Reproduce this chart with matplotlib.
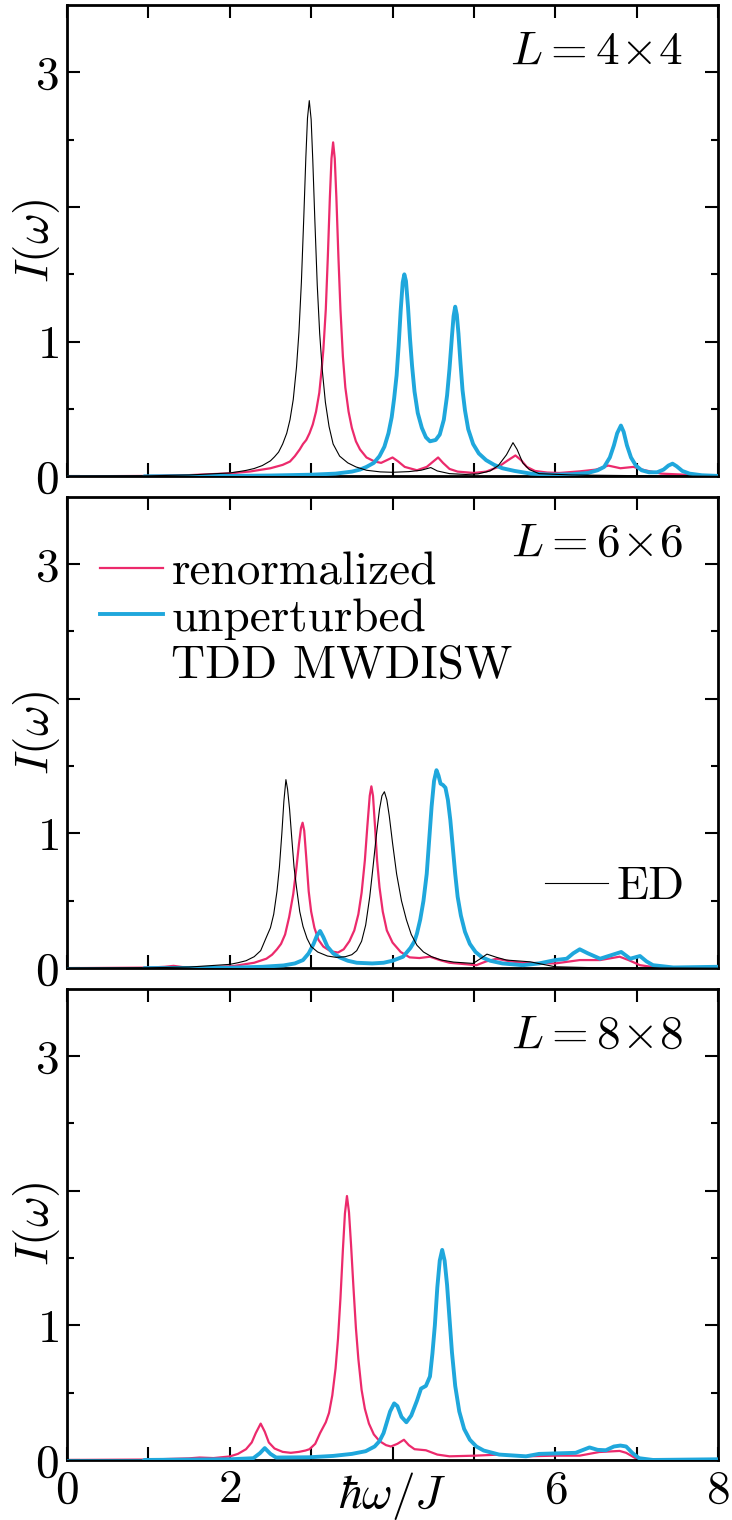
import matplotlib
matplotlib.use("Agg")
import matplotlib.pyplot as plt
from matplotlib.lines import Line2D
import numpy as np

plt.rcParams["font.family"] = "cmr10"
plt.rcParams["mathtext.fontset"] = "cm"
plt.rcParams["axes.unicode_minus"] = False

RED = "#ec2a6c"
CYAN = "#1fa7dc"

# ---- spectra: (hbar*omega/J, I(omega)) ----
ed_4x4 = [(0.0, 0.0), (1.0, 0.004), (1.5, 0.01), (2.0, 0.025), (2.1, 0.034), (2.2, 0.044),
          (2.3, 0.058), (2.4, 0.08), (2.5, 0.115), (2.55, 0.145), (2.6, 0.18), (2.65, 0.24),
          (2.7, 0.32), (2.74, 0.42), (2.78, 0.57), (2.82, 0.81), (2.85, 1.07), (2.88, 1.44),
          (2.91, 1.93), (2.935, 2.37), (2.955, 2.66), (2.977, 2.79), (3.0, 2.65), (3.02, 2.35),
          (3.045, 1.91), (3.075, 1.42), (3.105, 1.06), (3.135, 0.8), (3.175, 0.55), (3.22, 0.37),
          (3.27, 0.24), (3.35, 0.15), (3.45, 0.1), (3.55, 0.07), (3.68, 0.045), (3.85, 0.033),
          (4.0, 0.03), (4.2, 0.035), (4.35, 0.045), (4.47, 0.065), (4.55, 0.04), (4.7, 0.02),
          (4.9, 0.014), (5.05, 0.018), (5.2, 0.04), (5.3, 0.08), (5.4, 0.16), (5.48, 0.25),
          (5.53, 0.2), (5.6, 0.1), (5.68, 0.05), (5.8, 0.02), (6.2, 0.01), (7.0, 0.005),
          (8.0, 0.0)]
renorm_4x4 = [(0.0, 0.0), (1.0, 0.003), (1.5, 0.009), (2.0, 0.022), (2.25, 0.036), (2.5, 0.06),
              (2.65, 0.085), (2.74, 0.11), (2.8, 0.15), (2.86, 0.2), (2.9, 0.24), (2.94, 0.27),
              (2.98, 0.32), (3.02, 0.385), (3.06, 0.48), (3.1, 0.62), (3.13, 0.8), (3.15, 0.94),
              (3.18, 1.24), (3.205, 1.63), (3.23, 2.07), (3.25, 2.36), (3.27, 2.48), (3.29, 2.36),
              (3.31, 2.07), (3.335, 1.63), (3.36, 1.24), (3.39, 0.89), (3.42, 0.66), (3.46, 0.48),
              (3.5, 0.36), (3.55, 0.26), (3.6, 0.2), (3.68, 0.14), (3.78, 0.11), (3.86, 0.1),
              (3.93, 0.12), (4.0, 0.14), (4.07, 0.11), (4.15, 0.07), (4.3, 0.045), (4.42, 0.07),
              (4.5, 0.11), (4.56, 0.14), (4.62, 0.1), (4.7, 0.055), (4.8, 0.035), (5.0, 0.025),
              (5.15, 0.035), (5.3, 0.07), (5.42, 0.12), (5.51, 0.155), (5.58, 0.12), (5.65, 0.07),
              (5.75, 0.04), (5.9, 0.028), (6.05, 0.025), (6.3, 0.037), (6.5, 0.05), (6.65, 0.08),
              (6.8, 0.06), (6.96, 0.07), (7.1, 0.045), (7.3, 0.02), (7.6, 0.012), (8.0, 0.0)]
unpert_4x4 = [(0.0, -0.01), (0.93, -0.01), (0.95, 0.0), (2.0, 0.003), (2.5, 0.006), (3.0, 0.012),
              (3.3, 0.02), (3.5, 0.035), (3.6, 0.05), (3.68, 0.07), (3.77, 0.1), (3.84, 0.15),
              (3.9, 0.22), (3.95, 0.32), (3.99, 0.44), (4.02, 0.58), (4.05, 0.75), (4.075, 0.97),
              (4.1, 1.23), (4.125, 1.44), (4.145, 1.5), (4.165, 1.45), (4.19, 1.26), (4.215, 1.02),
              (4.24, 0.82), (4.27, 0.63), (4.31, 0.47), (4.36, 0.36), (4.41, 0.29), (4.46, 0.26),
              (4.53, 0.27), (4.58, 0.31), (4.63, 0.42), (4.67, 0.6), (4.7, 0.8), (4.73, 1.04),
              (4.75, 1.19), (4.77, 1.26), (4.79, 1.2), (4.81, 1.06), (4.835, 0.84), (4.86, 0.64),
              (4.89, 0.49), (4.93, 0.35), (4.99, 0.24), (5.06, 0.17), (5.15, 0.12), (5.25, 0.085),
              (5.35, 0.06), (5.5, 0.04), (5.7, 0.02), (5.97, 0.012), (6.2, 0.015), (6.4, 0.025),
              (6.52, 0.045), (6.6, 0.07), (6.67, 0.14), (6.72, 0.23), (6.76, 0.32), (6.806, 0.377),
              (6.84, 0.33), (6.88, 0.23), (6.93, 0.14), (6.99, 0.08), (7.06, 0.045), (7.15, 0.03),
              (7.25, 0.03), (7.33, 0.05), (7.39, 0.08), (7.44, 0.094), (7.49, 0.075), (7.56, 0.04),
              (7.65, 0.02), (7.8, 0.008), (8.0, 0.003)]

ed_6x6 = [(0.0, 0.0), (1.0, 0.003), (1.5, 0.008), (2.0, 0.028), (2.1, 0.04), (2.2, 0.055),
          (2.3, 0.085), (2.38, 0.13), (2.45, 0.23), (2.5, 0.3), (2.54, 0.4), (2.58, 0.57),
          (2.61, 0.75), (2.64, 1.0), (2.665, 1.24), (2.69, 1.40), (2.71, 1.33), (2.735, 1.18),
          (2.76, 0.98), (2.79, 0.75), (2.82, 0.6), (2.86, 0.42), (2.9, 0.31), (2.95, 0.22),
          (3.0, 0.16), (3.08, 0.12), (3.2, 0.09), (3.31, 0.08), (3.42, 0.085), (3.5, 0.1),
          (3.56, 0.13), (3.62, 0.2), (3.67, 0.32), (3.72, 0.53), (3.76, 0.75), (3.8, 0.98),
          (3.84, 1.18), (3.87, 1.28), (3.9, 1.31), (3.93, 1.25), (3.96, 1.13), (4.0, 0.93),
          (4.05, 0.7), (4.11, 0.5), (4.17, 0.36), (4.23, 0.25), (4.3, 0.17), (4.38, 0.12),
          (4.48, 0.085), (4.6, 0.06), (4.75, 0.045), (4.99, 0.035), (5.08, 0.07), (5.16, 0.104),
          (5.28, 0.08), (5.40, 0.06), (5.69, 0.047), (6.0, 0.01), (6.5, 0.003), (8.0, 0.0)]
renorm_6x6 = [(0.0, 0.0), (1.0, 0.004), (1.2, 0.01), (1.31, 0.017), (1.42, 0.008), (1.7, 0.006),
              (2.04, 0.015), (2.3, 0.04), (2.45, 0.07), (2.52, 0.1), (2.58, 0.14), (2.63, 0.18),
              (2.68, 0.25), (2.73, 0.38), (2.78, 0.55), (2.82, 0.75), (2.85, 0.92), (2.875, 1.04),
              (2.895, 1.08), (2.915, 1.02), (2.94, 0.82), (2.97, 0.57), (3.0, 0.42), (3.04, 0.3),
              (3.09, 0.21), (3.15, 0.16), (3.24, 0.125), (3.33, 0.116), (3.4, 0.14), (3.47, 0.2),
              (3.53, 0.28), (3.58, 0.4), (3.62, 0.56), (3.66, 0.8), (3.69, 1.05), (3.72, 1.28),
              (3.74, 1.35), (3.76, 1.28), (3.785, 1.05), (3.81, 0.8), (3.84, 0.6), (3.88, 0.42),
              (3.93, 0.28), (4.0, 0.19), (4.1, 0.12), (4.21, 0.08), (4.33, 0.075), (4.46, 0.085),
              (4.58, 0.06), (4.7, 0.04), (5.03, 0.022), (5.15, 0.05), (5.28, 0.07), (5.45, 0.05),
              (5.6, 0.04), (6.0, 0.035), (6.3, 0.06), (6.55, 0.06), (6.79, 0.085), (6.9, 0.06),
              (7.04, 0.022), (7.24, 0.005), (8.0, 0.0)]
unpert_6x6 = [(0.0, -0.01), (0.93, -0.01), (0.95, 0.0), (2.0, 0.003), (2.4, 0.01), (2.66, 0.02),
              (2.8, 0.035), (2.9, 0.06), (2.97, 0.11), (3.03, 0.18), (3.07, 0.24), (3.11, 0.276),
              (3.15, 0.23), (3.2, 0.16), (3.27, 0.11), (3.35, 0.08), (3.45, 0.055), (3.56, 0.04),
              (3.75, 0.035), (3.89, 0.04), (4.0, 0.055), (4.13, 0.085), (4.22, 0.15), (4.27, 0.2),
              (4.3, 0.257), (4.34, 0.36), (4.38, 0.5), (4.42, 0.7), (4.45, 0.95), (4.48, 1.2),
              (4.51, 1.39), (4.54, 1.47), (4.565, 1.43), (4.59, 1.37), (4.62, 1.36), (4.65, 1.34),
              (4.68, 1.25), (4.71, 1.1), (4.74, 0.9), (4.77, 0.7), (4.8, 0.53), (4.84, 0.39),
              (4.89, 0.27), (4.95, 0.18), (5.02, 0.12), (5.1, 0.08), (5.2, 0.055), (5.35, 0.035),
              (5.6, 0.022), (5.8, 0.035), (6.0, 0.06), (6.14, 0.07), (6.22, 0.11), (6.3, 0.14),
              (6.4, 0.11), (6.55, 0.07), (6.68, 0.095), (6.81, 0.12), (6.92, 0.07), (7.04, 0.09),
              (7.12, 0.05), (7.2, 0.022), (7.45, 0.005), (8.0, 0.01)]

renorm_8x8 = [(0.0, 0.0), (1.0, 0.003), (1.5, 0.012), (1.63, 0.018), (1.8, 0.014), (2.0, 0.026),
              (2.1, 0.045), (2.2, 0.08), (2.27, 0.13), (2.32, 0.2), (2.38, 0.27), (2.43, 0.21),
              (2.48, 0.13), (2.55, 0.085), (2.65, 0.06), (2.75, 0.053), (2.85, 0.06), (2.93, 0.07),
              (2.98, 0.08), (3.05, 0.12), (3.11, 0.2), (3.18, 0.28), (3.22, 0.35), (3.26, 0.48),
              (3.3, 0.68), (3.33, 0.9), (3.36, 1.2), (3.39, 1.56), (3.415, 1.83), (3.44, 1.96),
              (3.465, 1.84), (3.49, 1.6), (3.52, 1.28), (3.55, 0.98), (3.58, 0.75), (3.62, 0.52),
              (3.66, 0.38), (3.71, 0.27), (3.77, 0.19), (3.84, 0.14), (3.92, 0.11), (3.98, 0.1),
              (4.06, 0.12), (4.14, 0.15), (4.2, 0.11), (4.27, 0.08), (4.41, 0.072), (4.55, 0.04),
              (4.70, 0.027), (5.02, 0.032), (5.31, 0.04), (5.64, 0.027), (6.0, 0.032), (6.3, 0.032),
              (6.54, 0.059), (6.79, 0.067), (6.87, 0.053), (7.0, 0.008), (7.28, 0.0), (8.0, 0.0)]
unpert_8x8 = [(0.0, -0.01), (0.93, -0.01), (0.95, 0.0), (2.0, 0.005), (2.29, 0.013), (2.37, 0.05),
              (2.43, 0.088), (2.5, 0.045), (2.57, 0.018), (2.98, 0.02), (3.27, 0.03), (3.5, 0.045),
              (3.67, 0.065), (3.78, 0.1), (3.84, 0.14), (3.89, 0.2), (3.94, 0.3), (3.97, 0.36),
              (4.02, 0.42), (4.06, 0.4), (4.11, 0.32), (4.17, 0.28), (4.23, 0.33), (4.3, 0.44),
              (4.35, 0.53), (4.41, 0.55), (4.46, 0.62), (4.49, 0.79), (4.52, 1.0), (4.55, 1.28),
              (4.58, 1.48), (4.61, 1.56), (4.64, 1.48), (4.67, 1.3), (4.7, 1.05), (4.73, 0.8),
              (4.77, 0.55), (4.82, 0.36), (4.88, 0.23), (4.95, 0.15), (5.03, 0.1), (5.12, 0.07),
              (5.31, 0.04), (5.64, 0.027), (5.8, 0.045), (6.25, 0.053), (6.42, 0.093), (6.52, 0.075),
              (6.62, 0.072), (6.72, 0.1), (6.8, 0.107), (6.87, 0.1), (6.95, 0.05), (7.03, 0.013),
              (7.2, 0.0), (8.0, 0.005)]

sizes = ["4", "6", "8"]
x_ticklabels = ["$0$", "", "$2$", "", r"$\hbar\omega/J$", "", "$6$", "", "$8$"]
y_ticklabels = ["$0$", "$1$", "", "$3$"]

panels = [(ed_4x4, renorm_4x4, unpert_4x4),
          (ed_6x6, renorm_6x6, unpert_6x6),
          (None, renorm_8x8, unpert_8x8)]

FS = 34
LW_ED, LW_REN, LW_UNP = 0.8, 1.6, 2.8

fig, axes = plt.subplots(3, 1, figsize=(7.32, 15.2), dpi=100)
fig.subplots_adjust(left=0.0915, right=0.981, top=0.9967, bottom=0.0395, hspace=0.0435)

for i, (ax, n, (ed, ren, unp)) in enumerate(zip(axes, sizes, panels)):
    ren = np.array(ren).T
    unp = np.array(unp).T
    ax.plot(ren[0], ren[1], color=RED, lw=LW_REN, zorder=2)
    ax.plot(unp[0], unp[1], color=CYAN, lw=LW_UNP, zorder=3)
    if ed is not None:
        ed = np.array(ed).T
        ax.plot(ed[0], ed[1], color="black", lw=LW_ED, zorder=4)

    ax.set_xlim(0, 8)
    ax.set_ylim(0, 3.5)
    ax.set_xticks(range(9))
    ax.set_yticks([0, 1, 2, 3])
    ax.set_yticks([0.5, 1.5, 2.5], minor=True)
    ax.set_yticklabels(y_ticklabels)
    ax.tick_params(which="both", direction="in", top=True, right=True, width=1.5,
                   labelsize=FS, pad=6)
    ax.tick_params(which="major", length=9.5)
    ax.tick_params(which="minor", length=5)
    if i == 2:
        ax.set_xticklabels(x_ticklabels)
        ax.tick_params(axis="x", pad=7)
    else:
        ax.tick_params(axis="x", labelbottom=False)
    for sp in ax.spines.values():
        sp.set_linewidth(2.0)

    ax.set_ylabel(r"$I(\omega)$", fontsize=FS)
    ax.yaxis.set_label_coords(-0.008, 0.5)
    ax.text(0.946, 0.9, rf"$L={n}\!\times\!{n}$", transform=ax.transAxes,
            ha="right", va="center", fontsize=FS)

# legends in the middle panel
ax = axes[1]
h_ren = Line2D([], [], color=RED, lw=LW_REN)
h_unp = Line2D([], [], color=CYAN, lw=LW_UNP)
h_none = Line2D([], [], color="none")
leg = ax.legend([h_ren, h_unp, h_none], ["renormalized", "unperturbed", "TDD MWDISW"],
                loc="upper left", bbox_to_anchor=(0.0507, 0.885), frameon=False,
                fontsize=FS, handlelength=1.34, handletextpad=0.17, labelspacing=0.1,
                borderpad=0, borderaxespad=0)
ax.add_artist(leg)
ax.legend([Line2D([], [], color="black", lw=LW_ED)], ["ED"], loc="center right",
          bbox_to_anchor=(0.948, 0.172), frameon=False, fontsize=FS, handlelength=1.34,
          handletextpad=0.17, borderpad=0, borderaxespad=0)

fig.savefig("out.png", dpi=100)
